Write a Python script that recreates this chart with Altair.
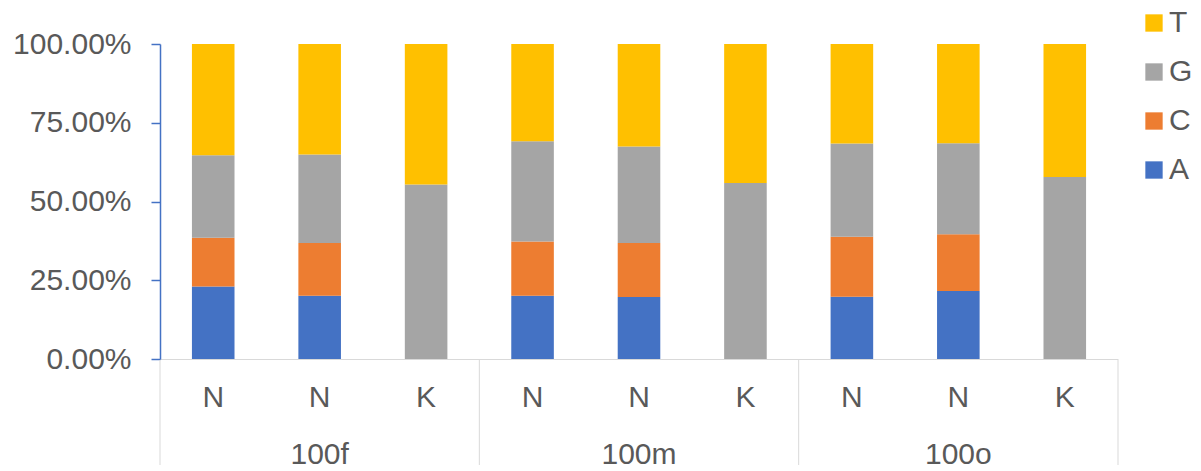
import altair as alt
import pandas as pd

groups = ["100f", "100f", "100f", "100m", "100m", "100m", "100o", "100o", "100o"]
cats = ["N", "N", "K", "N", "N", "K", "N", "N", "K"]
A = [23.0, 20.1, 0.0, 20.1, 19.7, 0.0, 19.8, 21.6, 0.0]
C = [15.5, 16.7, 0.0, 17.2, 17.1, 0.0, 19.0, 18.0, 0.0]
G = [26.2, 28.1, 55.4, 31.8, 30.7, 55.9, 29.6, 28.9, 57.8]
T = [35.3, 35.1, 44.6, 30.9, 32.5, 44.1, 31.6, 31.5, 42.2]
group_names = ["100f", "100m", "100o"]
bases = ["A", "C", "G", "T"]
base_colors = {"A": "#4472C4", "C": "#ED7D31", "G": "#A5A5A5", "T": "#FFC000"}
legend_order = ["T", "G", "C", "A"]
y_ticks = [0, 0.25, 0.5, 0.75, 1.0]

FONT = "Liberation Sans"
GRAY = "#595959"
LINE = "#D9D9D9"

keys = [f"{i}|{c}|{g}" for i, (c, g) in enumerate(zip(cats, groups))]
rows = []
for i, k in enumerate(keys):
    for j, (b, vals) in enumerate(zip(bases, [A, C, G, T])):
        rows.append({"key": k, "base": b, "ord": j, "value": vals[i]})
df = pd.DataFrame(rows)

grp_rows, first_rows, last_rows = [], [], []
for g in group_names:
    gk = [k for k, gg in zip(keys, groups) if gg == g]
    grp_rows.append({"key": gk[len(gk) // 2], "label": g})
    first_rows.append({"key": gk[0]})
last_rows.append({"key": keys[-1]})
grp_df = pd.DataFrame(grp_rows)
first_df = pd.DataFrame(first_rows)
last_df = pd.DataFrame(last_rows)

xscale = alt.Scale(domain=keys, paddingInner=0, paddingOuter=0)
xaxis = alt.Axis(
    title=None, labelAngle=0, ticks=False, domainColor=LINE, domainWidth=1,
    labelExpr="split(datum.value, '|')[1]", labelFontSize=30, labelColor=GRAY,
    labelFont=FONT, labelPadding=23, grid=False,
)

bars = alt.Chart(df).mark_bar(width=alt.RelativeBandSize(0.4)).encode(
    x=alt.X("key:N", scale=xscale, axis=xaxis, sort=keys),
    y=alt.Y(
        "value:Q", stack="normalize",
        scale=alt.Scale(domain=[0, 1]),
        axis=alt.Axis(
            title=None, values=y_ticks, grid=False,
            labelExpr="format(datum.value, '.2%')",
            domainColor="#4472C4", domainWidth=1.5,
            tickColor="#4472C4", tickWidth=1.5, tickSize=9,
            labelFontSize=30, labelColor=GRAY, labelFont=FONT, labelPadding=20,
        ),
    ),
    color=alt.Color(
        "base:N",
        scale=alt.Scale(domain=legend_order, range=[base_colors[b] for b in legend_order]),
        legend=alt.Legend(
            title=None, orient="none", legendX=979, legendY=-36,
            symbolType="square", symbolSize=300, symbolStrokeWidth=0,
            labelFontSize=30, labelFont=FONT, labelColor=GRAY,
            rowPadding=19, labelOffset=0, padding=0,
        ),
    ),
    order=alt.Order("ord:Q"),
)

rules_left = alt.Chart(first_df).mark_rule(color=LINE, strokeWidth=1).encode(
    x=alt.X("key:N", scale=xscale, sort=keys, bandPosition=0),
    y=alt.value(316), y2=alt.value(421),
)
rules_right = alt.Chart(last_df).mark_rule(color=LINE, strokeWidth=1).encode(
    x=alt.X("key:N", scale=xscale, sort=keys, bandPosition=1),
    y=alt.value(316), y2=alt.value(421),
)
grp_text = alt.Chart(grp_df).mark_text(
    fontSize=30, font=FONT, color=GRAY, baseline="middle", align="center"
).encode(
    x=alt.X("key:N", scale=xscale, sort=keys),
    y=alt.value(411),
    text="label:N",
)

chart = alt.layer(bars, rules_left, rules_right, grp_text).properties(
    width=958, height=315,
    autosize=alt.AutoSizeParams(type="none"),
    padding={"left": 160, "top": 44, "right": 83, "bottom": 112},
    background="white",
).configure_view(stroke=None)

chart.save("out.html", embed_options={"renderer": "svg", "actions": False})
